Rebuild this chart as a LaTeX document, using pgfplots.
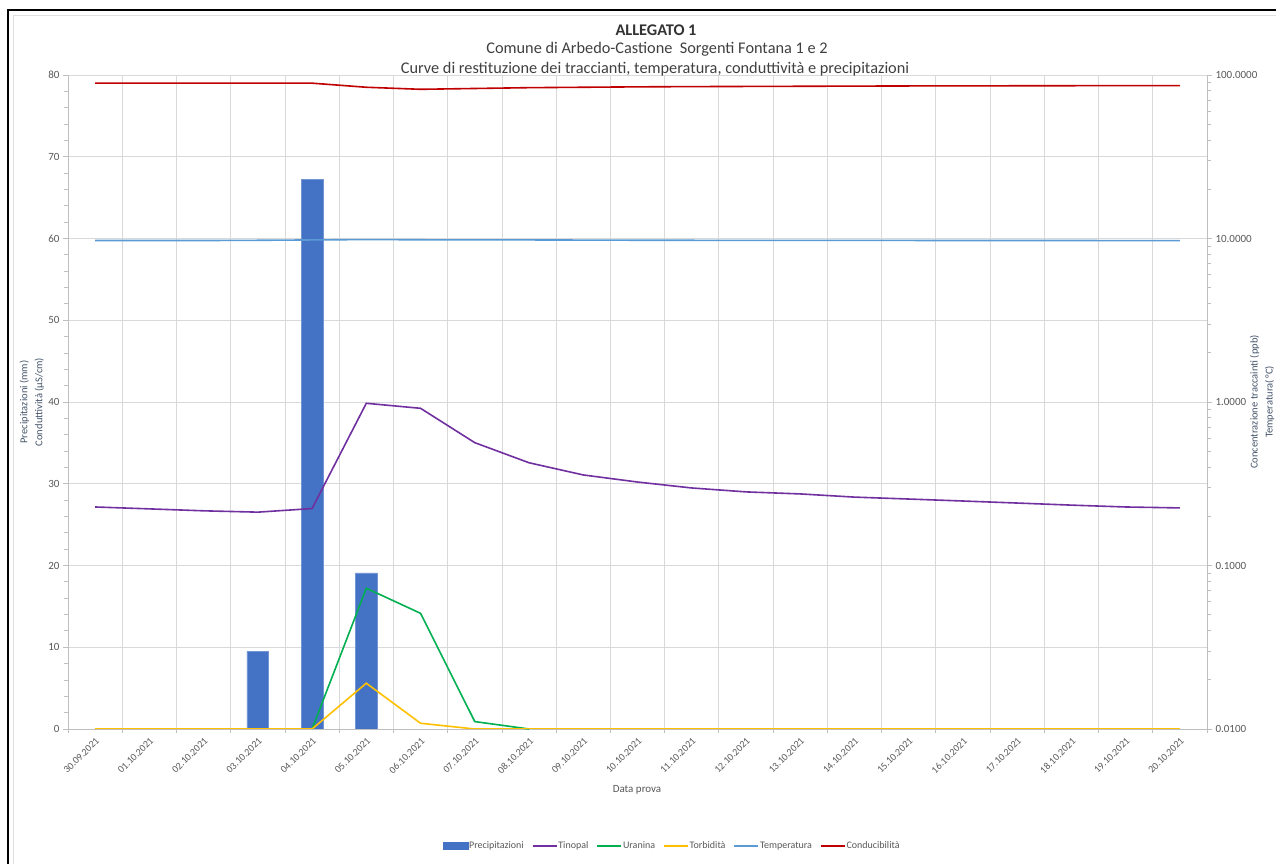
\documentclass[border=0pt]{standalone}
\usepackage{fontspec}
\setmainfont{Carlito}
\usepackage{pgfplots}
\pgfplotsset{compat=1.18}
\definecolor{barc}{HTML}{4472C4}
\definecolor{tinc}{HTML}{7030A0}
\definecolor{uranc}{HTML}{00B050}
\definecolor{torbc}{HTML}{FFC000}
\definecolor{tempc}{HTML}{5B9BD5}
\definecolor{condc}{HTML}{C00000}
\definecolor{gridc}{HTML}{D9D9D9}
\definecolor{axisc}{HTML}{BFBFBF}
\definecolor{tickc}{HTML}{595959}
\definecolor{labc}{HTML}{44546A}

\pgfplotstableread{
x v
3 9.5
4 67.2
5 19.1
}\precip

\pgfplotstableread{
x v
0 0.228
1 0.222
2 0.216
3 0.212
4 0.223
5 0.982
6 0.915
7 0.564
8 0.425
9 0.358
10 0.324
11 0.298
12 0.282
13 0.274
14 0.262
15 0.255
16 0.248
17 0.241
18 0.234
19 0.228
20 0.225
}\tinopal

\pgfplotstableread{
x v
4 0.0100
5 0.0726
6 0.0510
7 0.0111
8 0.0100
}\uranina

\pgfplotstableread{
x v
0 0
1 0
2 0
3 0
4 0
5 5.6
6 0.7
7 0
8 0
9 0
10 0
11 0
12 0
13 0
14 0
15 0
16 0
17 0
18 0
19 0
20 0
}\torb

\pgfplotstableread{
x v
0 9.72
1 9.72
2 9.72
3 9.75
4 9.80
5 9.85
6 9.82
7 9.80
8 9.80
9 9.78
10 9.76
11 9.75
12 9.74
13 9.74
14 9.73
15 9.73
16 9.72
17 9.72
18 9.72
19 9.71
20 9.71
}\temp

\pgfplotstableread{
x v
0 79.0
1 79.0
2 79.0
3 79.0
4 79.0
5 78.5
6 78.25
7 78.35
8 78.45
9 78.5
10 78.55
11 78.58
12 78.6
13 78.62
14 78.64
15 78.66
16 78.67
17 78.68
18 78.69
19 78.7
20 78.7
}\cond

\begin{document}
\begin{tikzpicture}[x=1pt,y=1pt]
\useasboundingbox (0,0) rectangle (1276,864);
\fill[white] (0,0) rectangle (1276,864);
\draw[gray!25, line width=0.8pt] (13,0) -- (13,849) -- (1276,849);
\draw[black, line width=2pt] (8,0) -- (8,854) -- (1276,854);

\pgfplotsset{common/.style={
  at={(68pt,135pt)}, anchor=south west, scale only axis,
  width=1139pt, height=654pt, xmin=-0.5, xmax=20.5,
  axis line style={draw=axisc, line width=0.8pt, -},
  tick style={draw=axisc, line width=0.8pt},
  tick align=outside,
  major tick length=5pt, minor tick length=4pt,
  tick label style={text=tickc},
}}

% Axis A: left axis, grid, bars
\begin{axis}[common,
  ymin=0, ymax=80, ytick={0,10,...,80}, minor y tick num=4,
  ymajorgrids, major grid style={draw=gridc, line width=0.8pt},
  minor grid style={draw=gridc, line width=0.8pt},
  axis x line*=bottom, axis y line*=left,
  xtick={0,...,20},
  xticklabels={30.09.2021,01.10.2021,02.10.2021,03.10.2021,04.10.2021,05.10.2021,06.10.2021,07.10.2021,08.10.2021,09.10.2021,10.10.2021,11.10.2021,12.10.2021,13.10.2021,14.10.2021,15.10.2021,16.10.2021,17.10.2021,18.10.2021,19.10.2021,20.10.2021},
  major x tick style={draw=none},
  minor xtick={-0.5,0.5,...,20.5}, xminorgrids,
  x tick label style={rotate=45, anchor=north east, font=\fontsize{10}{11}\selectfont, inner sep=2pt},
  y tick label style={font=\fontsize{11}{12}\selectfont},
  /pgf/number format/assume math mode=true,
]
\addplot[ybar, bar width=0.4, bar shift=0pt, fill=barc, draw=barc!75!white, line width=0.6pt] table[x=x,y=v]{\precip};
\end{axis}

% Axis B: right log axis
\begin{axis}[common,
  ymode=log, ymin=0.01, ymax=100,
  ytick={0.01,0.1,1,10,100},
  yticklabels={0.0100,0.1000,1.0000,10.0000,100.0000},
  axis y line*=right, axis x line=none,
  y tick label style={font=\fontsize{11}{12}\selectfont},
]
\addplot[tempc, line width=1.6pt] table[x=x,y=v]{\temp};
\addplot[tinc, line width=1.6pt] table[x=x,y=v]{\tinopal};
\addplot[uranc, line width=1.6pt] table[x=x,y=v]{\uranina};
\end{axis}

% Axis C: left linear, lines on top
\begin{axis}[common,
  ymin=0, ymax=80, hide axis,
]
\addplot[torbc, line width=1.6pt] table[x=x,y=v]{\torb};
\addplot[condc, line width=1.6pt] table[x=x,y=v]{\cond};
\end{axis}

% Legend axis
\begin{axis}[common, ymin=0, ymax=80, hide axis,
  legend columns=6,
  legend style={at={(0.53,-0.179)}, anchor=center, draw=none, fill=none,
    font=\fontsize{10}{11}\selectfont, text=tickc,
    /tikz/every even column/.append style={column sep=7pt},
    inner sep=1pt, nodes={inner sep=1pt}},
  legend image code/.code={\draw[#1] (0pt,0pt) -- (24pt,0pt);},
]
\addlegendimage{legend image code/.code={\fill[barc] (0pt,-3.5pt) rectangle (25pt,3.5pt);}}
\addlegendentry{Precipitazioni}
\addlegendimage{tinc, line width=1.6pt}
\addlegendentry{Tinopal}
\addlegendimage{uranc, line width=1.6pt}
\addlegendentry{Uranina}
\addlegendimage{torbc, line width=1.6pt}
\addlegendentry{Torbidità}
\addlegendimage{tempc, line width=1.6pt}
\addlegendentry{Temperatura}
\addlegendimage{condc, line width=1.6pt}
\addlegendentry{Conducibilità}
\end{axis}

% Titles and axis labels
\node[font=\bfseries\fontsize{16.3}{18}\selectfont, text=black!80] at (656,834) {ALLEGATO 1};
\node[font=\fontsize{16.3}{18}\selectfont, text=black!75] at (657,815) {Comune di Arbedo-Castione\ \ Sorgenti Fontana 1 e 2};
\node[font=\fontsize{16.3}{18}\selectfont, text=black!75] at (655,795) {Curve di restituzione dei traccianti, temperatura, conduttività e precipitazioni};
\node[font=\fontsize{11}{12}\selectfont, text=tickc] at (637,74) {Data prova};
\node[font=\fontsize{10.5}{15}\selectfont, text=labc, rotate=90, align=center] at (32,462) {Precipitazioni (mm)\\Conduttività (µS/cm)};
\node[font=\fontsize{10.5}{15}\selectfont, text=labc, rotate=90, align=center] at (1262,462) {Concentrazione traccainti (ppb)\\Temperatura(\,°C)};
\end{tikzpicture}
\end{document}
